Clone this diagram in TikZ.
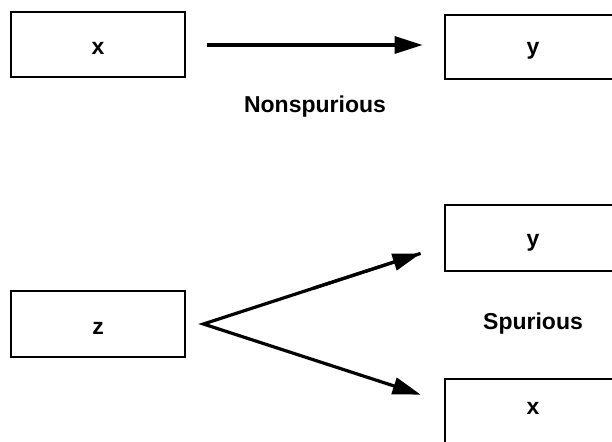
\documentclass[tikz,border=0pt]{standalone}
\usepackage{fontspec}
\setmainfont{Liberation Sans}
\usetikzlibrary{arrows.meta,calc}
\begin{document}
\begin{tikzpicture}[x=1pt,y=-1pt,
  boxnode/.style={draw,line width=2.8pt,inner sep=0pt,minimum width=174pt,minimum height=65pt},
  lbl/.style={font=\fontsize{23}{25}\bfseries\selectfont,anchor=base,inner sep=0pt},
  arr/.style={line width=3.2pt,-{Triangle[length=28pt,width=17pt]}}]
\useasboundingbox (0,0) rectangle (612,441);
\clip (0,0) rectangle (612,441);
% top
\node[boxnode] (x1) at (98,44.5) {};
\node[boxnode,minimum height=64pt] (y1) at (532,47) {};
\node[lbl] (lx1) at (98,55) {x};
\node[lbl] (ly1) at (533,55) {y};
\draw[arr,shorten <=21pt,shorten >=21pt] ([yshift=-0.5pt]x1.east) -- ([yshift=-0.5pt]x1.east -| y1.west);
\node[lbl] (non) at (315,112) {Nonspurious};
% bottom
\node[boxnode,minimum height=66pt] (z) at (98,324) {};
\node[boxnode,minimum height=66pt] (y2) at (532,238) {};
\node[boxnode,minimum height=66pt] (x2) at (532,412) {};
\node[lbl] (lz) at (98,334) {z};
\node[lbl] (ly2) at (533,246) {y};
\node[lbl] (lx2) at (533,414) {x};
\node[lbl] (spu) at (533,329) {Spurious};
\coordinate (v) at ([xshift=17pt,yshift=0pt]z.east);
\coordinate (ty) at ([xshift=-23pt,yshift=19pt]y2.south west);
\coordinate (tx) at ([xshift=-23pt,yshift=-17pt]x2.north west);
\draw[arr,line join=miter] (ty) -- (v) -- (tx);
\draw[arr] ($(v)!0.5!(ty)$) -- (ty);
\end{tikzpicture}
\end{document}
